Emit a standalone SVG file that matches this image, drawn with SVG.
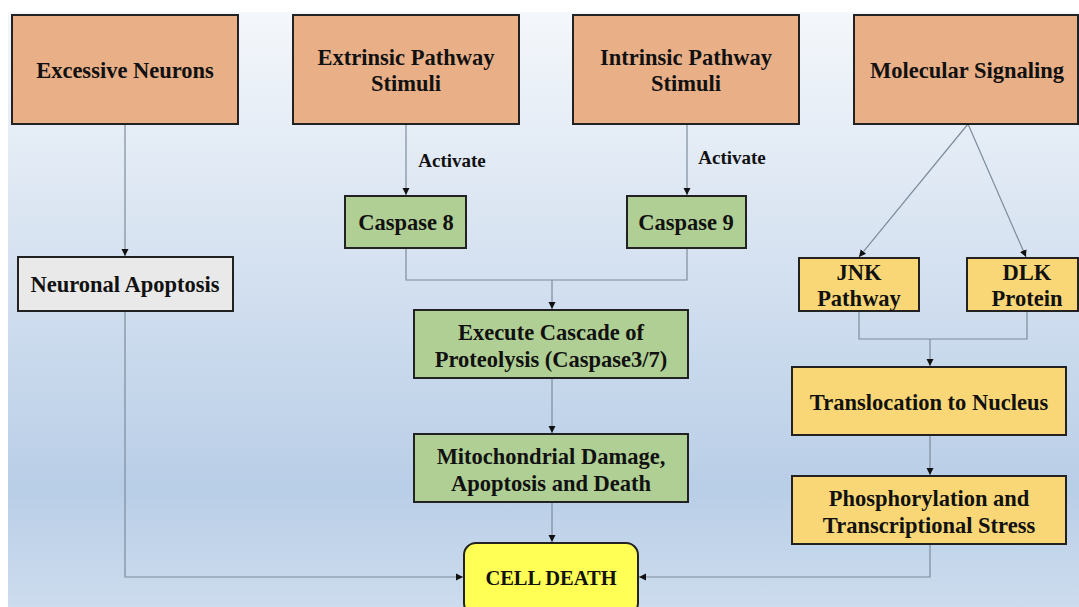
<svg xmlns="http://www.w3.org/2000/svg" width="1079" height="607" viewBox="0 0 1079 607">
<defs>
<linearGradient id="bg" x1="0" y1="0" x2="0" y2="1">
<stop offset="0" stop-color="#f4f7fb"/>
<stop offset="0.8" stop-color="#b9cee7"/>
<stop offset="1" stop-color="#cddcee"/>
</linearGradient>
<marker id="arr" markerWidth="8" markerHeight="8" refX="7" refY="4" orient="auto" markerUnits="userSpaceOnUse">
<path d="M0,0.5 L7,4 L0,7.5 Z" fill="#111"/>
</marker>
<style>
.box{stroke:#222;stroke-width:2}
.orange{fill:#e9b088}
.green{fill:#b0cf94}
.yellow{fill:#f9d776}
.grey{fill:#e9e9e9}
.t{font-family:"Liberation Serif","Times New Roman",serif;font-weight:bold;fill:#111;text-anchor:middle}
.big{font-size:22.5px}
.small{font-size:19px}
.c{fill:none;stroke:#7d8c9c;stroke-width:1.2}
</style>
</defs>
<rect x="8" y="12" width="1071" height="595" fill="url(#bg)"/>

<g id="connectors">
<path class="c" d="M125,124 V256" marker-end="url(#arr)"/>
<path class="c" d="M406,124 V195" marker-end="url(#arr)"/>
<path class="c" d="M687,124 V195" marker-end="url(#arr)"/>
<path class="c" d="M968,124 L859,257" marker-end="url(#arr)"/>
<path class="c" d="M968,124 L1026,257" marker-end="url(#arr)"/>
<path class="c" d="M406,248 V280 H687 V248"/>
<path class="c" d="M552,280 V309" marker-end="url(#arr)"/>
<path class="c" d="M552,378 V433" marker-end="url(#arr)"/>
<path class="c" d="M552,502 V542" marker-end="url(#arr)"/>
<path class="c" d="M859,311 V339 H1027 V311"/>
<path class="c" d="M930,339 V366" marker-end="url(#arr)"/>
<path class="c" d="M930,435 V475" marker-end="url(#arr)"/>
<path class="c" d="M125,311 V577 H463" marker-end="url(#arr)"/>
<path class="c" d="M930,544 V577 H639" marker-end="url(#arr)"/>
<text class="t small" x="452" y="167">Activate</text>
<text class="t small" x="732" y="164">Activate</text>
</g>

<g id="excessive-neurons">
<rect class="box orange" x="12" y="15" width="226" height="109"/>
<text class="t big" x="125" y="78">Excessive Neurons</text>
</g>
<g id="extrinsic">
<rect class="box orange" x="293" y="15" width="226" height="109"/>
<text class="t big" x="406" y="65">Extrinsic Pathway</text>
<text class="t big" x="406" y="91">Stimuli</text>
</g>
<g id="intrinsic">
<rect class="box orange" x="573" y="15" width="226" height="109"/>
<text class="t big" x="686" y="65">Intrinsic Pathway</text>
<text class="t big" x="686" y="91">Stimuli</text>
</g>
<g id="molecular-signaling">
<rect class="box orange" x="854" y="15" width="224" height="109"/>
<text class="t big" x="967" y="78">Molecular Signaling</text>
</g>
<g id="neuronal-apoptosis">
<rect class="box grey" x="18" y="257" width="215" height="54"/>
<text class="t big" x="125" y="292">Neuronal Apoptosis</text>
</g>
<g id="caspase8">
<rect class="box green" x="345" y="196" width="121" height="52"/>
<text class="t big" x="406" y="230">Caspase 8</text>
</g>
<g id="caspase9">
<rect class="box green" x="627" y="196" width="119" height="52"/>
<text class="t big" x="686" y="230">Caspase 9</text>
</g>
<g id="execute-cascade">
<rect class="box green" x="414" y="310" width="274" height="68"/>
<text class="t big" x="551" y="340">Execute Cascade of</text>
<text class="t big" x="551" y="367">Proteolysis (Caspase3/7)</text>
</g>
<g id="mitochondrial">
<rect class="box green" x="414" y="434" width="274" height="68"/>
<text class="t big" x="551" y="464">Mitochondrial Damage,</text>
<text class="t big" x="551" y="491">Apoptosis and Death</text>
</g>
<g id="jnk">
<rect class="box yellow" x="799" y="258" width="120" height="53"/>
<text class="t big" x="859" y="280">JNK</text>
<text class="t big" x="859" y="306">Pathway</text>
</g>
<g id="dlk">
<rect class="box yellow" x="967" y="258" width="111" height="53"/>
<text class="t big" x="1027" y="280">DLK</text>
<text class="t big" x="1027" y="306">Protein</text>
</g>
<g id="translocation">
<rect class="box yellow" x="792" y="367" width="274" height="68"/>
<text class="t big" x="929" y="410">Translocation to Nucleus</text>
</g>
<g id="phosphorylation">
<rect class="box yellow" x="792" y="476" width="274" height="68"/>
<text class="t big" x="929" y="506">Phosphorylation and</text>
<text class="t big" x="929" y="533">Transcriptional Stress</text>
</g>
<g id="cell-death">
<rect class="box" fill="#ffff55" x="464" y="543" width="174" height="72" rx="12"/>
<text class="t" font-size="20.5" x="551" y="585">CELL DEATH</text>
</g>
</svg>
